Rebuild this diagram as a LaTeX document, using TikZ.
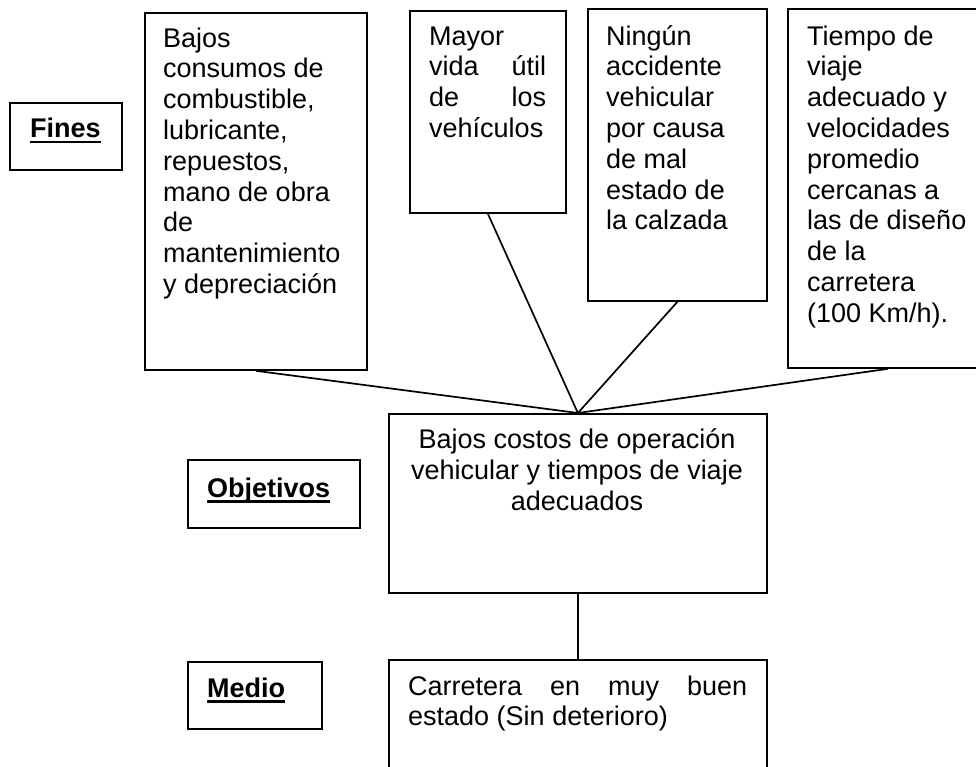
\documentclass[tikz,border=0pt]{standalone}
\usepackage{fontspec}
\setmainfont{Liberation Sans}
\newcommand\myul[1]{\setbox0\hbox{#1}\rlap{\rule[-5.5pt]{\wd0}{2.4pt}}\box0}
\tikzset{
  box/.style={draw, line width=1.8pt, inner sep=0pt, anchor=north west},
  txt/.style={inner sep=0pt, anchor=north west, align=left, font=\fontsize{27pt}{30.8pt}\selectfont},
  ctxt/.style={inner sep=0pt, anchor=north, align=center, font=\fontsize{27pt}{31pt}\selectfont},
  lbl/.style={inner sep=0pt, anchor=base west, font=\fontsize{27pt}{31pt}\selectfont\bfseries},
  conn/.style={line width=1.7pt}
}
\begin{document}
\begin{tikzpicture}[x=1pt,y=-1pt]
\fill[white] (0,0) rectangle (976,767);
\useasboundingbox (0,0) rectangle (976,767);
% top boxes
\node[box, minimum width=222pt, minimum height=357pt] (b1) at (144,12) {};
\node[box, minimum width=156pt, minimum height=202pt] (b2) at (409,10) {};
\node[box, minimum width=179pt, minimum height=292pt] (b3) at (587,8) {};
\node[box, minimum width=200pt, minimum height=359pt] (b4) at (787,8) {};
% center and bottom
\node[box, minimum width=378pt, minimum height=179pt] (obj) at (388,413) {};
\node[box, minimum width=378pt, minimum height=130pt] (med) at (388,659) {};
% label boxes
\node[box, minimum width=112pt, minimum height=67pt] (lf) at (9,102) {};
\node[box, minimum width=172pt, minimum height=68pt] (lo) at (187,459) {};
\node[box, minimum width=134pt, minimum height=67pt] (lm) at (187,661) {};
% texts
\node[txt] (t1) at (163,25.4) {\strut Bajos\\consumos de\\combustible,\\lubricante,\\repuestos,\\mano de obra\\de\\mantenimiento\\y depreciación};
\node[txt] (t2) at (429,23.4) {\strut Mayor\\\hbox to 117pt{vida\hfill útil}\\\hbox to 117pt{de\hfill los}\\vehículos};
\node[txt] (t3) at (606,23.4) {\strut Ningún\\accidente\\vehicular\\por causa\\de mal\\estado de\\la calzada};
\node[txt] (t4) at (807,23.4) {\strut Tiempo de\\viaje\\adecuado y\\velocidades\\promedio\\cercanas a\\las de diseño\\de la\\carretera\\(100 Km/h).};
\node[ctxt] (tc) at (577,426.3) {\strut Bajos costos de operación\\vehicular y tiempos de viaje\\adecuados};
\node[txt] (tm) at (408,673.3) {\strut\hbox to 339pt{Carretera\hfill en\hfill muy\hfill buen}\\estado (Sin deterioro)};
\node[lbl] (nf) at (30,138) {\myul{Fines}};
\node[lbl] (no) at (207,497) {\myul{Objetivos}};
\node[lbl] (nm) at (207,697) {\myul{Medio}};
% connectors
\draw[conn] (b1.south) -- (obj.north);
\draw[conn] (b2.south) -- (obj.north);
\draw[conn] (b3.south) -- (obj.north);
\draw[conn] (b4.south) -- (obj.north);
\draw[conn] (obj.south) -- (med.north);
\end{tikzpicture}
\end{document}
